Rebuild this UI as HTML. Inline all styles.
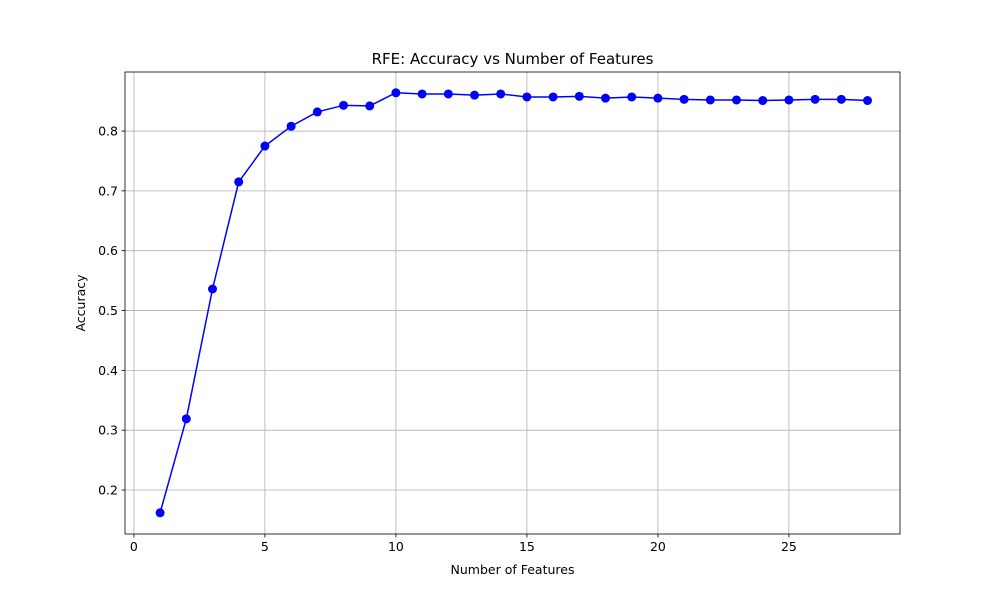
<!DOCTYPE html>
<html><head><meta charset="utf-8"><style>
body{margin:0;background:#fff;font-family:"Liberation Sans","DejaVu Sans",sans-serif}
svg text{font-family:"DejaVu Sans","Liberation Sans",sans-serif}
</style></head><body>
<svg id="c" width="1000" height="600" xmlns="http://www.w3.org/2000/svg"></svg>
<script>
const features=[1,2,3,4,5,6,7,8,9,10,11,12,13,14,15,16,17,18,19,20,21,22,23,24,25,26,27,28];
const accuracy=[0.162,0.319,0.536,0.715,0.775,0.808,0.832,0.843,0.842,0.864,0.862,0.862,0.860,0.862,0.857,0.857,0.858,0.855,0.857,0.855,0.853,0.852,0.852,0.851,0.852,0.853,0.853,0.851];
const xTicks=[0,5,10,15,20,25];
const yTicks=[0.2,0.3,0.4,0.5,0.6,0.7,0.8];
const L=125,R=900,T=72,B=534;
const xMin=-0.34,xMax=29.24,yMin=0.1265,yMax=0.8987;
const sx=v=>L+(v-xMin)/(xMax-xMin)*(R-L);
const sy=v=>B-(v-yMin)/(yMax-yMin)*(B-T);
const svg=document.getElementById('c');const NS='http://www.w3.org/2000/svg';
function mk(t,a,p){const e=document.createElementNS(NS,t);for(const k in a)e.setAttribute(k,a[k]);(p||svg).appendChild(e);return e;}
let g=mk('g',{});


xTicks.forEach(v=>{const x=sx(v);
mk('line',{x1:x,x2:x,y1:T,y2:B,stroke:'#b0b0b0','stroke-width':0.8},g);
mk('line',{x1:x,x2:x,y1:B,y2:B+3.5,stroke:'#000','stroke-width':0.8});
const t=mk('text',{x:x,y:B+17,'font-size':12.5,'text-anchor':'middle'});t.textContent=v;

});
yTicks.forEach(v=>{const y=sy(v);
mk('line',{x1:L,x2:R,y1:y,y2:y,stroke:'#b0b0b0','stroke-width':0.8},g);
mk('line',{x1:L-3.5,x2:L,y1:y,y2:y,stroke:'#000','stroke-width':0.8});
const t=mk('text',{x:L-7,y:y+4.5,'font-size':12.5,'text-anchor':'end'});t.textContent=v.toFixed(1);

});
const pl=mk('polyline',{points:features.map((f,i)=>sx(f)+','+sy(accuracy[i])).join(' '),fill:'none',stroke:'#0000ff','stroke-width':1.5});


features.forEach((f,i)=>{const c=mk('circle',{cx:sx(f),cy:sy(accuracy[i]),r:4.5,fill:'#0000ff'});

});
const fr=mk('rect',{x:L,y:T,width:R-L,height:B-T,fill:'none',stroke:'#000','stroke-width':0.8});


let t=mk('text',{x:(L+R)/2,y:64,'font-size':15,'text-anchor':'middle'});t.textContent='RFE: Accuracy vs Number of Features';


t=mk('text',{x:(L+R)/2,y:574,'font-size':12.5,'text-anchor':'middle'});t.textContent='Number of Features';


t=mk('text',{x:0,y:0,'font-size':12.5,'text-anchor':'middle',transform:'translate(85,303) rotate(-90)'});t.textContent='Accuracy';


</script>
</body></html>
